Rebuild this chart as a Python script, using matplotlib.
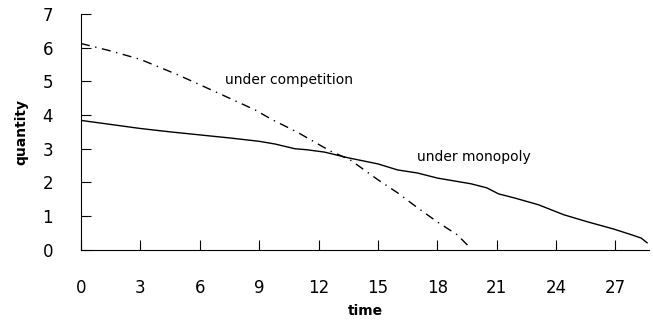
# quantity over time: monopoly vs competition

import matplotlib.pyplot as plt

t_mono = [0, 1.5, 3, 4.5, 6, 7.5, 9, 9.8, 10.8, 11.4, 12.3, 13.5, 15, 16, 17, 18, 19, 19.7, 20.5, 21.1, 21.9, 23.1, 24.4, 25.6, 26.9, 27.8, 28.3, 28.6]
q_mono = [3.84, 3.72, 3.6, 3.5, 3.41, 3.32, 3.22, 3.14, 3.0, 2.97, 2.9, 2.73, 2.55, 2.37, 2.28, 2.13, 2.03, 1.96, 1.84, 1.66, 1.54, 1.34, 1.04, 0.83, 0.62, 0.45, 0.35, 0.21]

t_comp = [0, 1.5, 3.0, 4.9, 6.9, 8.8, 9.6, 10.9, 12.6, 13.6, 15.0, 16.0, 17.0, 18.0, 19.0, 19.7]
q_comp = [6.12, 5.9, 5.65, 5.19, 4.66, 4.15, 3.88, 3.5, 2.93, 2.67, 2.08, 1.69, 1.25, 0.83, 0.45, 0.04]

x_ticks = [0, 3, 6, 9, 12, 15, 18, 21, 24, 27]
y_ticks = [0, 1, 2, 3, 4, 5, 6, 7]

fig, ax = plt.subplots(figsize=(6.53, 3.22), dpi=100)
fig.subplots_adjust(left=0.124, right=0.994, bottom=0.224, top=0.957)

ax.plot(t_mono, q_mono, color="black", linewidth=1.0)
ax.plot(t_comp, q_comp, color="black", linewidth=1.0, linestyle=(0, (6.5, 4, 1, 4)))

ax.text(7.3, 5.04, "under competition", fontsize=10, va="center", ha="left")
ax.text(17.0, 2.76, "under monopoly", fontsize=10, va="center", ha="left")

ax.set_xlim(0, 28.7)
ax.set_ylim(0, 7)
ax.set_xticks(x_ticks)
ax.set_yticks(y_ticks)
ax.tick_params(axis="x", direction="in", length=7, pad=21, labelsize=12)
ax.tick_params(axis="y", direction="in", length=7, pad=20, labelsize=12)
ax.spines[["top", "right"]].set_visible(False)

ax.set_xlabel("time", fontsize=10, fontweight="bold", labelpad=5)
ax.set_ylabel("quantity", fontsize=10, fontweight="bold", labelpad=10)

plt.savefig("out.png", dpi=100)
